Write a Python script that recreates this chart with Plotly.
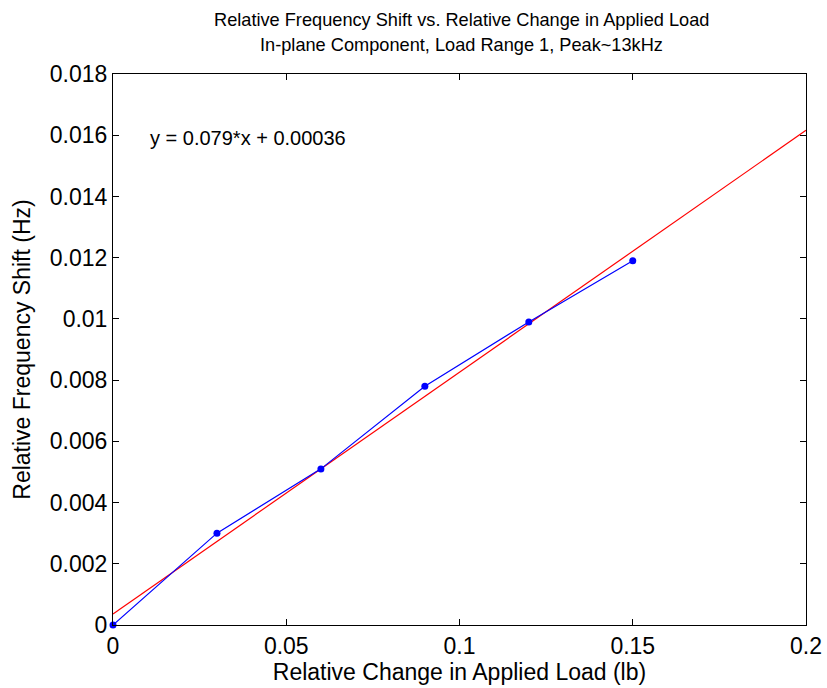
import plotly.graph_objects as go

load_change = [0, 0.03, 0.06, 0.09, 0.12, 0.15]
freq_shift = [0, 0.0030, 0.0051, 0.0078, 0.0099, 0.0119]
fit_x = [0, 0.2]
fit_y = [0.00036, 0.01616]

font = "Liberation Sans, Arial, sans-serif"
W, H = 827, 688
L, R, T, B = 113, 21, 74, 63
ph = H - T - B
pw = W - L - R

fig = go.Figure()
fig.add_trace(go.Scatter(x=fit_x, y=fit_y, mode="lines",
                         line=dict(color="#ff0000", width=1.2), showlegend=False))
fig.add_trace(go.Scatter(x=load_change, y=freq_shift, mode="lines+markers",
                         line=dict(color="#0000ff", width=1.2),
                         marker=dict(color="#0000ff", size=7), showlegend=False,
                         cliponaxis=False))

fig.add_annotation(x=0.0101, y=0.0159, xref="x", yref="y", text="y = 0.079*x + 0.00036",
                   showarrow=False, xanchor="left", yanchor="middle",
                   font=dict(family=font, size=20, color="black"))

for txt, ypx in [("Relative Frequency Shift vs. Relative Change in Applied Load", 20),
                 ("In-plane Component, Load Range 1, Peak~13kHz", 45)]:
    fig.add_annotation(x=(461.5 - L) / pw, y=1 + (T - ypx) / ph, xref="paper", yref="paper",
                       text=txt, showarrow=False, xanchor="center", yanchor="middle",
                       font=dict(family=font, size=18.2, color="black"))

fig.update_layout(
    width=W, height=H,
    margin=dict(l=L, r=R, t=T, b=B, autoexpand=False),
    paper_bgcolor="white", plot_bgcolor="white",
    font=dict(family=font, color="black"),
)
fig.update_xaxes(range=[0, 0.2], dtick=0.05, tick0=0, showgrid=False, zeroline=False,
                 showline=True, linecolor="black", linewidth=1, mirror="ticks",
                 ticks="inside", ticklen=6, tickcolor="black", automargin=False,
                 tickfont=dict(family=font, size=23),
                 title=dict(text="Relative Change in Applied Load (lb)", font=dict(family=font, size=23), standoff=4))
fig.update_yaxes(range=[0, 0.018], dtick=0.002, tick0=0, showgrid=False, zeroline=False,
                 showline=True, linecolor="black", linewidth=1, mirror="ticks",
                 ticks="inside", ticklen=6, tickcolor="black", automargin=False,
                 tickfont=dict(family=font, size=23),
                 title=dict(text="Relative Frequency Shift (Hz)", font=dict(family=font, size=23), standoff=12))

fig.write_html("out.html")
